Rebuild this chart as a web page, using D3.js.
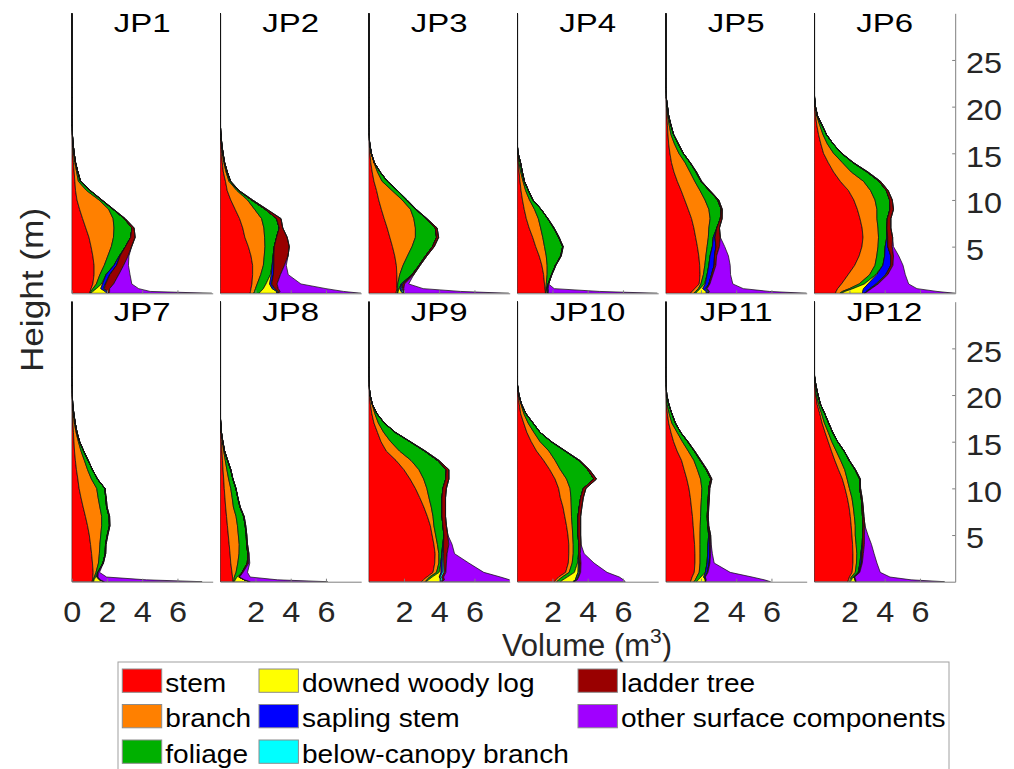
<!DOCTYPE html>
<html>
<head>
<meta charset="utf-8">
<script src="https://cdn.jsdelivr.net/npm/d3@7"></script>
<style>
  html, body { margin: 0; padding: 0; background: #fff; }
  svg { display: block; font-family: "Liberation Sans", Arial, Helvetica, sans-serif; }
</style>
</head>
<body>
<svg id="chart" width="1014" height="769"></svg>
<script>
// Height levels (m) at which each vertical profile is sampled
const heights = [0, 0.2, 0.5, 1, 2, 3, 4, 5, 6, 7, 8, 9, 10, 11, 12, 13, 14, 15, 16, 17, 18, 19, 20, 21, 22, 23, 30];

const plots = ["JP1", "JP2", "JP3", "JP4", "JP5", "JP6", "JP7", "JP8", "JP9", "JP10", "JP11", "JP12"];

const components = ["stem", "branch", "foliage", "downed woody log", "sapling stem",
  "below-canopy branch", "ladder tree", "other surface components"];
const colors = ["#ff0000", "#ff8000", "#00b000", "#ffff00", "#0000ff", "#00ffff", "#990000", "#a000ff"];

// Volume (m^3) per height level, one row per plot (JP1..JP12); missing tail entries are 0
const stem = [
  [1.0,1.05,1.1,1.2,1.27,1.27,1.2,1.1,0.98,0.8,0.62,0.45,0.3,0.22,0.18,0.14,0.1,0.06,0.04,0.02],
  [1.7,1.72,1.75,1.8,1.84,1.84,1.75,1.6,1.4,1.28,1.1,0.85,0.6,0.4,0.3,0.18,0.12,0.08,0.05,0.02],
  [1.55,1.57,1.6,1.61,1.6,1.57,1.48,1.35,1.2,1.05,0.88,0.72,0.57,0.45,0.3,0.2,0.12,0.07,0.03],
  [1.6,1.6,1.58,1.55,1.5,1.4,1.25,1.05,0.88,0.68,0.52,0.4,0.3,0.22,0.16,0.11,0.06,0.02],
  [1.4,1.5,1.65,1.9,1.95,1.93,1.88,1.8,1.7,1.6,1.47,1.28,1.08,0.88,0.66,0.47,0.33,0.24,0.17,0.13,0.1,0.07,0.04,0.02],
  [1.2,1.25,1.33,1.55,1.93,2.3,2.55,2.71,2.77,2.72,2.6,2.45,2.25,1.95,1.48,1.1,0.8,0.53,0.38,0.25,0.15,0.08,0.03],
  [1.15,1.18,1.2,1.22,1.18,1.13,1.07,1.0,0.9,0.78,0.65,0.53,0.42,0.35,0.27,0.21,0.16,0.13,0.1,0.07,0.05,0.03,0.02,0.01],
  [0.72,0.72,0.7,0.67,0.6,0.56,0.51,0.46,0.41,0.36,0.31,0.27,0.23,0.2,0.16,0.13,0.1,0.07,0.04,0.02],
  [3.0,3.1,3.3,3.65,3.75,3.77,3.7,3.6,3.5,3.33,3.13,2.9,2.65,2.35,2.0,1.55,1.0,0.7,0.5,0.3,0.18,0.1,0.05,0.02],
  [2.1,2.2,2.35,2.75,2.9,2.93,2.93,2.88,2.8,2.7,2.6,2.45,2.35,2.15,1.85,1.5,1.1,0.8,0.55,0.37,0.2,0.12,0.05,0.02],
  [1.4,1.45,1.5,1.62,1.66,1.66,1.64,1.6,1.56,1.52,1.46,1.4,1.32,1.2,1.05,0.9,0.65,0.45,0.3,0.17,0.1,0.04,0.02,0.01],
  [1.9,1.95,2.0,2.15,2.2,2.2,2.18,2.14,2.1,2.05,1.98,1.88,1.75,1.6,1.38,1.17,0.98,0.8,0.62,0.45,0.32,0.17,0.09,0.04,0.01]
];
const branch = [
  [0.05,0.05,0.1,0.2,0.33,0.58,0.85,1.15,1.39,1.6,1.73,1.65,1.25,0.63,0.2,0.14,0.08,0.05,0.02,0.01],
  [0.2,0.23,0.25,0.3,0.46,0.61,0.75,0.94,1.12,1.2,1.25,1.1,0.95,0.55,0.2,0.15,0.09,0.05,0.02,0.01],
  [0.07,0.06,0.04,0.04,0.16,0.38,0.72,1.11,1.45,1.6,1.68,1.65,1.33,0.88,0.46,0.3,0.18,0.08,0.03,0.01],
  [0.03,0.03,0.05,0.1,0.2,0.3,0.4,0.5,0.57,0.65,0.68,0.58,0.4,0.26,0.17,0.09,0.04,0.01],
  [0.2,0.2,0.2,0.1,0.19,0.29,0.4,0.55,0.72,0.85,1.05,1.17,1.15,1.07,0.99,0.91,0.77,0.51,0.33,0.17,0.1,0.05,0.02],
  [0.25,0.35,0.67,1.0,1.22,1.15,1.0,0.91,0.88,0.9,0.96,1.11,1.2,1.25,1.32,1.0,0.8,0.57,0.37,0.25,0.17,0.07,0.02],
  [0.05,0.04,0.08,0.16,0.34,0.44,0.53,0.65,0.8,0.92,0.95,0.97,1.0,0.77,0.63,0.51,0.37,0.25,0.15,0.08,0.05,0.02],
  [0.03,0.06,0.1,0.23,0.4,0.51,0.57,0.57,0.57,0.54,0.44,0.41,0.37,0.28,0.22,0.16,0.1,0.06,0.02,0.01],
  [0.2,0.2,0.15,0.2,0.23,0.21,0.2,0.2,0.2,0.32,0.42,0.52,0.65,0.77,0.85,0.85,0.75,0.55,0.35,0.25,0.17,0.1,0.03],
  [0.15,0.15,0.2,0.2,0.22,0.25,0.25,0.27,0.32,0.38,0.47,0.6,0.65,0.65,0.6,0.65,0.7,0.5,0.4,0.25,0.18,0.1,0.03],
  [0.2,0.23,0.26,0.28,0.29,0.29,0.31,0.35,0.4,0.46,0.54,0.63,0.73,0.78,0.75,0.7,0.63,0.5,0.35,0.18,0.1,0.04,0.01],
  [0.1,0.1,0.1,0.18,0.2,0.22,0.2,0.19,0.23,0.23,0.24,0.26,0.25,0.27,0.35,0.33,0.27,0.2,0.18,0.13,0.1,0.08,0.03,0.01]
];
const foliage = [
  [0.05,0.1,0.2,0.3,0.35,0.55,0.65,0.8,0.98,1.02,0.63,0.25,0.15,0.2,0.12,0.07,0.04,0.03,0.02,0.01,0.01],
  [0.3,0.35,0.45,0.5,0.55,0.5,0.5,0.53,0.68,0.87,0.85,0.6,0.23,0.1,0.08,0.07,0.04,0.03,0.02,0.01,0.01],
  [0.03,0.05,0.08,0.2,0.69,0.91,1.02,1.16,1.2,1.13,0.7,0.3,0.26,0.31,0.3,0.15,0.02],
  [0.02,0.03,0.05,0.1,0.25,0.47,0.82,1.03,0.9,0.74,0.53,0.38,0.19,0.16,0.08,0.09,0.09,0.02],
  [0.1,0.1,0.1,0.2,0.21,0.23,0.24,0.3,0.28,0.45,0.58,0.7,0.72,0.52,0.35,0.34,0.28,0.25,0.22,0.15,0.1,0.05,0.04,0.01],
  [0.1,0.15,0.2,0.3,0.35,0.45,0.45,0.41,0.47,0.51,0.59,0.74,0.83,0.9,0.88,0.9,0.6,0.45,0.33,0.2,0.13,0.04,0.02,0.02],
  [0.05,0.05,0.08,0.1,0.25,0.33,0.32,0.37,0.44,0.42,0.38,0.43,0.46,0.34,0.28,0.21,0.15,0.07,0.05,0.05,0.02,0.01,0.01],
  [0.05,0.08,0.15,0.35,0.54,0.5,0.42,0.45,0.44,0.43,0.37,0.32,0.29,0.24,0.22,0.13,0.05,0.02,0.01],
  [0.05,0.1,0.15,0.15,0.12,0.17,0.3,0.47,0.51,0.51,0.61,0.74,0.91,1.25,1.55,1.5,1.42,1.09,0.65,0.34,0.12,0.01],
  [0.2,0.25,0.3,0.3,0.3,0.3,0.32,0.3,0.33,0.37,0.45,0.55,0.75,1.55,1.55,1.34,0.92,0.63,0.35,0.28,0.12,0.03,0.02],
  [0.15,0.17,0.24,0.35,0.4,0.43,0.45,0.49,0.42,0.38,0.38,0.39,0.39,0.58,0.5,0.36,0.34,0.3,0.2,0.2,0.15,0.1,0.03,0.01],
  [0.05,0.07,0.1,0.17,0.2,0.23,0.34,0.42,0.45,0.46,0.5,0.53,0.58,0.71,0.59,0.48,0.45,0.33,0.25,0.24,0.18,0.11,0.1,0.05,0.01]
];
const downedLog = [
  [0.9,0.7,0.25,0.05], [1.0,0.9,0.5,0.2,0.05], [0.3,0.15,0.05], [0.1,0.05],
  [0.6,0.5,0.15,0.05], [1.2,1.0,0.6,0.2,0.05], [0.6,0.3,0.05], [0.9,0.5,0.1],
  [0.8,0.7,0.4,0.1], [0.7,0.7,0.5,0.2,0.05], [0.5,0.4,0.15], [0.3,0.2,0.05]
];
const saplingStem = [
  [0.05,0.1,0.15,0.15,0.2,0.15,0.05], [0.05,0.05,0.1,0.1,0.12,0.1,0.05], [0,0.05,0.08,0.06,0.03], [0,0.03,0.05,0.03],
  [0.05,0.1,0.15,0.2,0.25,0.3,0.25,0.2,0.1], [0.1,0.2,0.35,0.45,0.5,0.45,0.35,0.15,0.05], [0,0.03,0.05,0.03], [0,0,0.03],
  [0,0,0.05,0.08,0.08,0.05,0.05], [0.03,0.03,0.03,0.03,0.03], [0,0,0.05,0.1,0.12,0.12,0.1,0.05], [0,0,0,0.05,0.08,0.06,0.03]
];
const belowCanopy = [
  [0.02,0.05,0.05,0.03,0.02], [0.02,0.05,0.05,0.03], [0.05,0.08,0.06,0.03], [0,0.03,0.03],
  [0.05,0.05,0.05], [0,0.05,0.05,0.05,0.03], [0,0.02,0.03], [0,0.02],
  [0.05,0.1,0.1,0.1,0.08,0.05], [0.03,0.05,0.06,0.06,0.04], [0,0.03,0.03,0.02], [0,0.02,0.02]
];
const ladderTree = [
  [0.05,0.1,0.3,0.45,0.5,0.4,0.45,0.35,0.25,0.12,0.06,0.03,0.02,0.02,0.01],
  [0.05,0.1,0.2,0.3,0.4,0.6,0.8,0.85,0.6,0.2,0.25,0.1,0.06,0.03,0.02],
  [0.02,0.05,0.08,0.1,0.08,0.06,0.08,0.1,0.12,0.1,0.05,0.03,0.02],
  [0,0,0,0,0.02,0.03,0.03,0.03,0.03,0.03,0.02],
  [0.02,0.03,0.05,0.06,0.08,0.1,0.12,0.2,0.3,0.15,0.1,0.06,0.06,0.05,0.04,0.03,0.02],
  [0.02,0.03,0.05,0.08,0.1,0.12,0.15,0.25,0.28,0.22,0.2,0.2,0.15,0.1,0.08,0.05,0.03,0.02],
  [0,0,0,0,0.03,0.03,0.03,0.03,0.03,0.03,0.03,0.03],
  [0,0,0.02,0.05,0.08,0.06,0.05,0.03,0.03,0.03,0.02],
  [0.05,0.1,0.1,0.1,0.15,0.2,0.3,0.22,0.2,0.2,0.2,0.2,0.2,0.18,0.15,0.08,0.05,0.03,0.02],
  [0.02,0.03,0.05,0.06,0.08,0.1,0.12,0.15,0.15,0.15,0.15,0.15,0.15,0.15,0.1,0.06,0.03,0.02],
  [0.02,0.02,0.02,0.03,0.04,0.05,0.06,0.06,0.06,0.06,0.06,0.06,0.06,0.06,0.05,0.04,0.03,0.02],
  [0.02,0.02,0.03,0.04,0.05,0.08,0.1,0.1,0.1,0.08,0.06,0.05,0.05,0.04,0.03,0.02]
];
const otherSurface = [
  [5.83,2.3,1.65,1.03,0.64,0.27,0.05], [4.68,3.6,2.7,1.35,0.44,0.1], [5.93,3.2,1.1,0.23], [6.2,2.9,0.34],
  [5.58,3.4,2.05,1.3,1.0,0.81,0.67,0.3], [5.13,3.94,2.58,1.73,0.99,0.57,0.3,0.07], [5.55,2.62,0.49,0.07], [4.4,1.88,0.6,0.25,0.06],
  [4.15,3.7,3.23,2.15,1.27,0.42,0.18], [2.9,2.62,2.31,1.5,0.74,0.22], [3.68,3.3,2.65,1.26,0.24,0.1,0.02], [5.03,3.14,2.0,1.16,0.83,0.61,0.4,0.2]
];

const xTicksFirst = [0, 2, 4, 6];
const xTicksOther = [2, 4, 6];
const yTicks = [5, 10, 15, 20, 25];

const series = [stem, branch, foliage, downedLog, saplingStem, belowCanopy, ladderTree, otherSurface];

// ---- layout ----
const svg = d3.select("#chart");
const panelW = 141, panelH = 280;
const left0 = 71.7, stepX = 148.5, top0 = 13.3, stepY = 288.4;
const axisGray = "#7f7f7f", textColor = "#262626";

const x = d3.scaleLinear().domain([0, 8]).range([0, panelW]);
const y = d3.scaleLinear().domain([0, 30]).range([panelH, 0]);

const area = d3.area()
  .y(d => y(d.data.h))
  .x0(d => x(d[0]))
  .x1(d => x(d[1]));

const stack = d3.stack().keys(components);

plots.forEach((name, p) => {
  const col = p % 6, row = Math.floor(p / 6);
  const g = svg.append("g")
    .attr("transform", `translate(${left0 + col * stepX},${top0 + row * stepY})`);

  const table = heights.map((h, i) => {
    const rec = { h };
    components.forEach((c, k) => { rec[c] = series[k][p][i] ?? 0; });
    return rec;
  });
  const layers = stack(table);

  const clipId = "clip" + p;
  g.append("clipPath").attr("id", clipId)
    .append("rect").attr("x", 0).attr("y", -2).attr("width", panelW).attr("height", panelH + 2);

  // left axis line (under the areas, whose edges darken it)
  const ya = d3.axisLeft(y).tickValues([]).tickSizeOuter(0);
  g.append("g").call(ya).select(".domain").attr("stroke", axisGray);

  g.append("g").attr("clip-path", `url(#${clipId})`)
    .selectAll("path").data(layers).join("path")
    .attr("d", area)
    .attr("fill", (d, i) => colors[i])
    .attr("stroke", "#141414")
    .attr("stroke-width", 0.75)
    .attr("stroke-linejoin", "round");

  // bottom axis (labels only on lower row)
  const xa = d3.axisBottom(x)
    .tickValues(col === 0 ? xTicksFirst : xTicksOther)
    .tickSizeInner(-3).tickSizeOuter(0).tickPadding(19)
    .tickFormat(row === 1 ? d3.format("d") : () => "");
  const gx = g.append("g").attr("transform", `translate(0,${panelH})`).call(xa);
  gx.select(".domain").attr("stroke", axisGray);
  gx.selectAll(".tick line").attr("stroke", axisGray);
  gx.selectAll(".tick text")
    .attr("fill", textColor).attr("font-size", 30)
    .attr("font-family", "Liberation Sans, Arial, sans-serif")
    .attr("transform", "scale(1.08,1)");

  // right-hand height axis on the last column
  if (col === 5) {
    const yr = d3.axisRight(y).tickValues(yTicks)
      .tickSizeInner(-3).tickSizeOuter(0).tickPadding(10);
    const gy = g.append("g").attr("transform", `translate(${panelW},0)`).call(yr);
    gy.select(".domain").attr("stroke", axisGray);
    gy.selectAll(".tick line").attr("stroke", axisGray);
    gy.selectAll(".tick text")
      .attr("fill", textColor).attr("font-size", 30)
      .attr("font-family", "Liberation Sans, Arial, sans-serif")
      .attr("dy", "0.43em")
      .attr("transform", "scale(1.08,1)");
  }

  // plot title
  g.append("text")
    .attr("transform", `translate(${panelW / 2},19) scale(1.32,1)`)
    .attr("text-anchor", "middle")
    .attr("font-size", 25)
    .attr("fill", "#000")
    .text(name);
});

// axis titles
svg.append("text")
  .attr("transform", "translate(43,290) rotate(-90) scale(1.1,1)")
  .attr("text-anchor", "middle")
  .attr("font-size", 32)
  .attr("fill", textColor)
  .text("Height (m)");

const vol = svg.append("text")
  .attr("transform", "translate(587,656)")
  .attr("text-anchor", "middle")
  .attr("font-size", 31)
  .attr("fill", textColor);
vol.append("tspan").text("Volume (m");
vol.append("tspan").attr("font-size", 21).attr("dy", -13).text("3");
vol.append("tspan").attr("dy", 13).text(")");

// legend
const legend = svg.append("g");
legend.append("rect")
  .attr("x", 118).attr("y", 662).attr("width", 831).attr("height", 130)
  .attr("fill", "#fff").attr("stroke", "#a0a0a0").attr("stroke-width", 1);

const legendColX = [122.3, 259, 578];
const legendRowY = [669, 704.5, 740];
const legendPos = [[0,0],[0,1],[0,2],[1,0],[1,1],[1,2],[2,0],[2,1]];
components.forEach((c, i) => {
  const [cx, ry] = legendPos[i];
  const lx = legendColX[cx], ly = legendRowY[ry];
  legend.append("rect")
    .attr("x", lx).attr("y", ly).attr("width", 39.4).attr("height", 23.3)
    .attr("fill", colors[i]).attr("stroke", "#8c8c8c").attr("stroke-width", 1);
  legend.append("text")
    .attr("transform", `translate(${lx + 43},${ly + 22.5}) scale(1.08,1)`)
    .attr("font-size", 26)
    .attr("fill", "#000")
    .text(c);
});
</script>
</body>
</html>
